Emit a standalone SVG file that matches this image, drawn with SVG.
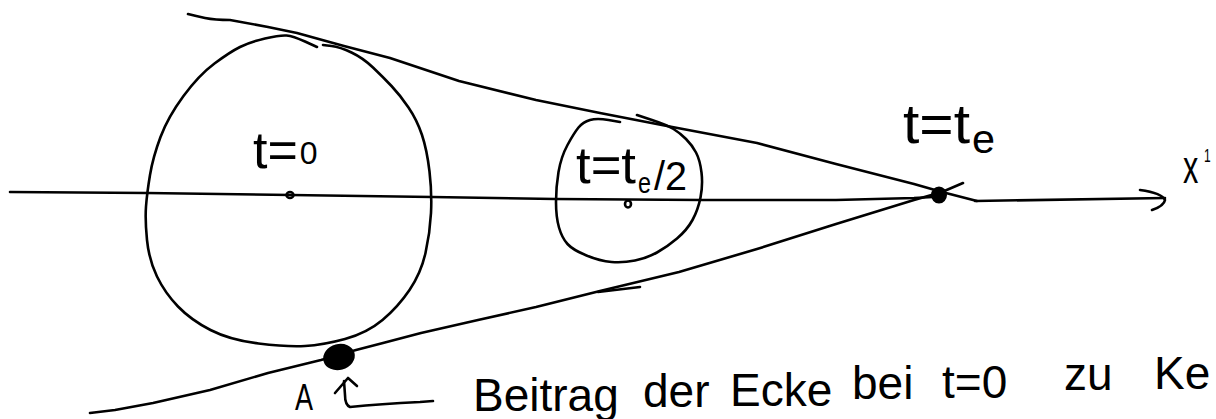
<svg xmlns="http://www.w3.org/2000/svg" width="1216" height="419" viewBox="0 0 1216 419">
<style>
.s{fill:none;stroke:#000;stroke-width:2.6;stroke-linecap:round;stroke-linejoin:round}
.f{fill:#000;stroke:#000;stroke-width:2}
text{font-family:"Liberation Sans",Arial,sans-serif;fill:#000}
</style>
<rect width="1216" height="419" fill="#fff"/>
<g id="connectors">
<polyline class="s" points="10,192 147,193 291,195 432,197 555,199 702,200 836,200 914,198 933,197"/>
<path class="s" d="M975,201 L1165,198"/>
<path class="s" d="M1140,190 Q1162,193 1165,200 Q1164,206 1152,210"/>
<path class="s" d="M188,14 Q196,16 205,18 Q215,20 230,20 L268,27 L297,33 L344,46 L390,58 L459,81 L536,100 L600,113 L667,126 L757,143 L836,164 L914,184 L942,192 L977,201"/>
<path class="s" d="M90,413 L115,410 L153,403 L210,390 L268,373 L321,360 L356,350 L383,343 L421,333 L478,320 L536,307 L600,291 L679,272 L757,249 L836,224 L914,200 L942,192 L963,183"/>
<path class="s" d="M598,292 L640,287"/>
<path class="s" d="M433,401 L420,402 Q380,404 350,407 Q345,405 345,395 L344,381"/>
<path class="s" d="M335,393 L348,378 L357,386"/>
</g>
<g id="big-circle">
<path class="s" d="M317,47 L305,41.5 Q293,36 286.5,35.5 Q280,35 265,38.5 Q250,42 240,47 Q230,52 214.5,63.5 Q199,75 183.5,96 Q168,117 160.5,137 Q153,157 150,175 Q147,193 146,206.5 Q145,220 147,240 Q149,260 157,276.5 Q165,293 178,306.5 Q191,320 210.5,330 Q230,340 258.5,343.5 Q287,347 305,346 Q323,345 345,339 Q367,333 382.5,320 Q398,307 409.5,290 Q421,273 425.5,253 Q430,233 431,213 Q432,193 429.5,171.5 Q427,150 422,135 Q417,120 408.5,107.5 Q400,95 391.5,86 Q383,77 373,67.5 Q363,58 351.5,52.5 Q340,47 331.5,46 L323,45"/>
<ellipse class="s" cx="290" cy="195" rx="3.5" ry="3"/>
<text x="253" y="168" font-size="52">t=<tspan font-size="32" dx="2" dy="-4">0</tspan></text>
</g>
<g id="small-circle">
<path class="s" d="M620,122 L608.5,120 Q597,118 590,120 Q583,122 578.5,127.5 Q574,133 567.5,145 Q561,157 558.5,172 Q556,187 556,202 Q556,217 559,227.5 Q562,238 567.5,244 Q573,250 586.5,255.5 Q600,261 611.5,262 Q623,263 635,260.5 Q647,258 657,252.5 Q667,247 677,238.5 Q687,230 692.5,220 Q698,210 700.5,197.5 Q703,185 701.5,172.5 Q700,160 696,152.5 Q692,145 686,139 Q680,133 673.5,129 Q667,125 652,120 L637,115"/>
<ellipse class="s" cx="628" cy="204" rx="3" ry="3.5"/>
<text x="576" y="183" font-size="52" textLength="60" lengthAdjust="spacingAndGlyphs">t=t</text>
<text x="638" y="193" font-size="30" textLength="13" lengthAdjust="spacingAndGlyphs">e</text>
<text x="654" y="190" font-size="40" textLength="33" lengthAdjust="spacingAndGlyphs">/2</text>
</g>
<g id="apex">
<ellipse class="f" cx="939" cy="195" rx="7" ry="7.5"/>
<text x="903" y="143" font-size="56" textLength="67" lengthAdjust="spacingAndGlyphs">t=t</text>
<text x="972" y="153" font-size="40" textLength="23" lengthAdjust="spacingAndGlyphs">e</text>
</g>
<g id="axis-label">
<text x="1183" y="183" font-size="46" textLength="22" lengthAdjust="spacingAndGlyphs">x<tspan font-size="18" x="1204" y="162">1</tspan></text>
</g>
<g id="point-A">
<ellipse class="f" cx="339" cy="357" rx="15" ry="12" transform="rotate(-15 339 357)"/>
<text x="295" y="410" font-size="36" textLength="18" lengthAdjust="spacingAndGlyphs">A</text>
</g>
<g id="note">
<text font-size="46"><tspan x="473" y="411">Beitrag</tspan><tspan x="643" y="407">der</tspan><tspan x="730" y="406">Ecke</tspan><tspan x="852" y="399">bei</tspan><tspan x="942" y="398">t=0</tspan><tspan x="1064" y="390">zu</tspan><tspan x="1154" y="389">Ke</tspan></text>
</g>
</svg>
